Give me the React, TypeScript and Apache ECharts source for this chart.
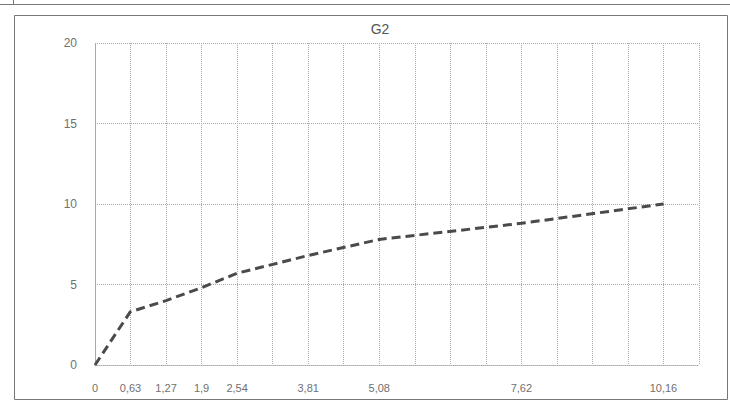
import React, { useEffect, useRef } from "react";
import * as echarts from "echarts";

const title = "G2";
const xValues = [0, 0.63, 1.27, 1.9, 2.54, 3.81, 5.08, 7.62, 10.16];
const yValues = [0, 3.3, 4.0, 4.8, 5.7, 6.8, 7.8, 8.8, 10.0];
const xStep = 0.635;
const xSteps = 17;
const yMax = 20;
const yStep = 5;

export default function App() {
  const ref = useRef<HTMLDivElement>(null);
  useEffect(() => {
    document.body.style.margin = "0";
    const chart = echarts.init(ref.current!, null, { renderer: "svg" });
    const fmtX = (v: number) => {
      const hit = xValues.find((x) => Math.abs(x - v) < 0.01);
      return hit === undefined ? "" : String(hit).replace(".", ",");
    };
    chart.setOption({
      animation: false,
      backgroundColor: "#ffffff",
      title: {
        text: title,
        left: 375,
        top: 17,
        textAlign: "center",
        textStyle: { fontFamily: "Liberation Sans", fontSize: 14, fontWeight: "normal", color: "#555" },
      },
      graphic: [
        { type: "rect", shape: { x: 14.5, y: 15.5, width: 713, height: 384 }, style: { fill: "none", stroke: "#777", lineWidth: 1 } },
        { type: "line", shape: { x1: 0, y1: 4.5, x2: 730, y2: 4.5 }, style: { stroke: "#777", lineWidth: 1 } },
        { type: "line", shape: { x1: 13.5, y1: 0, x2: 13.5, y2: 5 }, style: { stroke: "#777", lineWidth: 1 } },
      ],
      grid: { left: 95, right: 31, top: 43, bottom: 40, containLabel: false },
      xAxis: {
        type: "value",
        min: 0,
        max: xStep * xSteps,
        interval: xStep,
        axisLine: { show: true, lineStyle: { color: "#aaa", type: "dotted" } },
        axisTick: { show: false },
        axisLabel: {
          formatter: fmtX,
          color: "#707070",
          fontFamily: "Liberation Sans",
          fontSize: 11,
          margin: 17,
          showMaxLabel: true,
          showMinLabel: true,
        },
        splitLine: { show: true, lineStyle: { color: "#aaa", type: "dotted", width: 1 } },
      },
      yAxis: {
        type: "value",
        min: 0,
        max: yMax,
        interval: yStep,
        axisLine: { show: true, lineStyle: { color: "#aaa", type: "dotted" } },
        axisTick: { show: false },
        axisLabel: { color: "#707070", fontFamily: "Liberation Sans", fontSize: 12, margin: 18 },
        splitLine: { show: true, lineStyle: { color: "#aaa", type: "dotted", width: 1 } },
      },
      series: [
        {
          type: "line",
          data: xValues.map((x, i) => [x, yValues[i]]),
          symbol: "none",
          lineStyle: { color: "#4a4a4a", width: 3, type: [9, 5] },
        },
      ],
    });
    return () => chart.dispose();
  }, []);
  return <div ref={ref} style={{ width: 730, height: 405 }} />;
}
